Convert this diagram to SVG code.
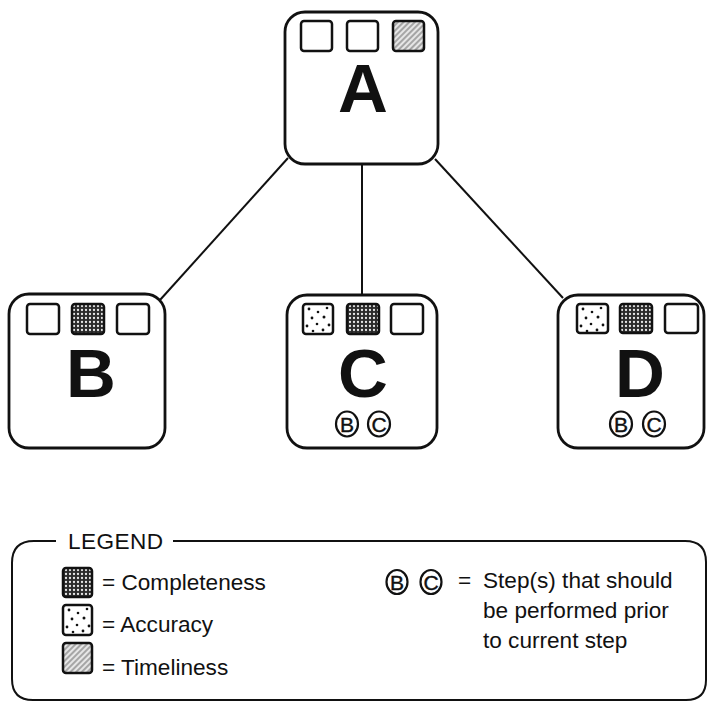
<svg xmlns="http://www.w3.org/2000/svg" width="709" height="703" viewBox="0 0 709 703">
  <style>
    .box { fill: #fff; stroke: #111; stroke-width: 2.8; }
    .sq { stroke: #111; stroke-width: 2.5; }
    .empty { fill: #fff; }
    .comp { fill: url(#completeness); }
    .acc { fill: url(#accuracy); }
    .time { fill: url(#timeliness); }
    .big { font-family: "Liberation Sans", Arial, sans-serif; font-weight: bold; font-size: 69px; fill: #111; text-anchor: middle; }
    .ring { fill: #fff; stroke: #111; stroke-width: 2.2; }
    .ringtxt { font-family: "Liberation Sans", Arial, sans-serif; font-size: 21px; fill: #111; text-anchor: middle; stroke: #111; stroke-width: 0.4; }
    .lbl { font-family: "Liberation Sans", Arial, sans-serif; font-size: 22.6px; fill: #111; }
    .edge { stroke: #111; stroke-width: 2; fill: none; }
  </style>
  <defs>
    <!-- dark field with a grid of light dots -->
    <pattern id="completeness" width="4" height="4" patternUnits="userSpaceOnUse">
      <rect width="4" height="4" fill="#2a2a2a"/>
      <circle cx="2" cy="2" r="1.15" fill="#e8e8e8"/>
    </pattern>
    <!-- white field with scattered dots -->
    <pattern id="accuracy" width="1" height="1" patternUnits="objectBoundingBox">
      <rect width="32" height="32" fill="#fff"/>
      <g fill="#111">
        <circle cx="6" cy="5" r="1.4"/>
        <circle cx="15" cy="8" r="1.3"/>
        <circle cx="24" cy="4" r="1.3"/>
        <circle cx="9" cy="14" r="1.4"/>
        <circle cx="21" cy="13" r="1.5"/>
        <circle cx="4" cy="22" r="1.4"/>
        <circle cx="14" cy="20" r="1.3"/>
        <circle cx="26" cy="21" r="1.4"/>
        <circle cx="10" cy="27" r="1.3"/>
        <circle cx="20" cy="26" r="1.4"/>
      </g>
    </pattern>
    <!-- diagonal hatching -->
    <pattern id="timeliness" width="4" height="4" patternUnits="userSpaceOnUse" patternTransform="rotate(45)">
      <rect width="4" height="4" fill="#e6e6e6"/>
      <line x1="1" y1="0" x2="1" y2="4" stroke="#8a8a8a" stroke-width="1.4"/>
    </pattern>
  </defs>

  <rect width="709" height="703" fill="#fff"/>

  <g id="connectors">
    <line class="edge" x1="288" y1="158" x2="160" y2="300"/>
    <line class="edge" x1="362" y1="164" x2="362" y2="295"/>
    <line class="edge" x1="435" y1="159" x2="563" y2="298"/>
  </g>

  <g id="node-A">
    <rect class="box" x="285" y="12" width="153" height="152" rx="20"/>
    <rect class="sq empty" x="301" y="21" width="31" height="30" rx="3"/>
    <rect class="sq empty" x="347" y="21" width="31" height="30" rx="3"/>
    <rect class="sq time" x="393" y="21" width="31" height="30" rx="3"/>
    <text class="big" x="363" y="112">A</text>
  </g>

  <g id="node-B">
    <rect class="box" x="9" y="294" width="156" height="154" rx="20"/>
    <rect class="sq empty" x="27" y="304" width="32" height="30" rx="3"/>
    <rect class="sq comp" x="72" y="304" width="32" height="30" rx="3"/>
    <rect class="sq empty" x="117" y="304" width="32" height="30" rx="3"/>
    <text class="big" x="91" y="397">B</text>
  </g>

  <g id="node-C">
    <rect class="box" x="287" y="295" width="150" height="153" rx="20"/>
    <rect class="sq acc" x="303" y="304" width="30" height="30" rx="3"/>
    <rect class="sq comp" x="347" y="304" width="32" height="30" rx="3"/>
    <rect class="sq empty" x="391" y="304" width="32" height="30" rx="3"/>
    <text class="big" x="363" y="397">C</text>
    <ellipse class="ring" cx="347" cy="424" rx="11" ry="12.5"/>
    <text class="ringtxt" x="347" y="431.5">B</text>
    <ellipse class="ring" cx="379" cy="424" rx="11" ry="12.5"/>
    <text class="ringtxt" x="379" y="431.5">C</text>
  </g>

  <g id="node-D">
    <rect class="box" x="558" y="295" width="146" height="153" rx="20"/>
    <rect class="sq acc" x="577" y="304" width="31" height="29" rx="3"/>
    <rect class="sq comp" x="620" y="304" width="32" height="29" rx="3"/>
    <rect class="sq empty" x="665" y="304" width="33" height="29" rx="3"/>
    <text class="big" x="640" y="397">D</text>
    <ellipse class="ring" cx="621" cy="424" rx="11" ry="12.5"/>
    <text class="ringtxt" x="621" y="431.5">B</text>
    <ellipse class="ring" cx="654" cy="424" rx="11" ry="12.5"/>
    <text class="ringtxt" x="654" y="431.5">C</text>
  </g>

  <g id="legend">
    <path class="edge" stroke-width="2.4" d="M 56 541 L 34 541 Q 12 541 12 563 L 12 679 Q 12 700 33 700 L 686 700 Q 706 700 706 680 L 706 562 Q 706 541 685 541 L 173 541"/>
    <text class="lbl" x="68" y="549" font-size="20" textLength="95">LEGEND</text>

    <rect class="sq comp" x="63" y="568" width="29" height="29" rx="3"/>
    <text class="lbl" x="102" y="590">= Completeness</text>
    <rect class="sq acc" x="63" y="605" width="29" height="30" rx="3"/>
    <text class="lbl" x="102" y="632">= Accuracy</text>
    <rect class="sq time" x="63" y="643" width="29" height="30" rx="3"/>
    <text class="lbl" x="102" y="675">= Timeliness</text>

    <ellipse class="ring" cx="397" cy="582" rx="10.5" ry="12"/>
    <text class="ringtxt" x="397" y="589.5">B</text>
    <ellipse class="ring" cx="431" cy="582" rx="10.5" ry="12"/>
    <text class="ringtxt" x="431" y="589.5">C</text>
    <text class="lbl" x="458" y="588">=</text>
    <text class="lbl" x="483" y="588">Step(s) that should</text>
    <text class="lbl" x="483" y="618">be performed prior</text>
    <text class="lbl" x="483" y="648">to current step</text>
  </g>
</svg>
